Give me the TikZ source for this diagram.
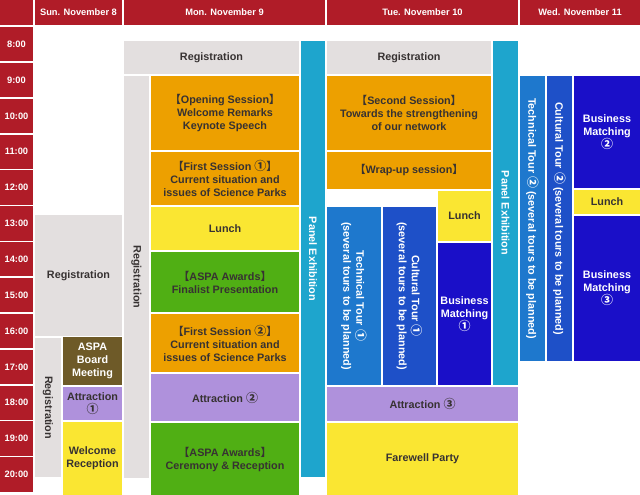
\documentclass[tikz,border=0pt]{standalone}
\usepackage{fontspec}
\setmainfont{Liberation Sans}
\newfontfamily\cjk{Noto Sans CJK JP}
\newcommand\mk[1]{{\cjk #1}}
\newcommand\cnum[1]{{\cjk\fontsize{12}{13}\selectfont #1}}

\definecolor{hdred}{HTML}{B01C28}
\definecolor{regrey}{HTML}{E3DFDF}
\definecolor{sesorange}{HTML}{EDA000}
\definecolor{lunchyellow}{HTML}{FAE632}
\definecolor{awgreen}{HTML}{50AF14}
\definecolor{attrlav}{HTML}{AF91DC}
\definecolor{boardbrown}{HTML}{6E5A28}
\definecolor{panelcyan}{HTML}{1EA5CD}
\definecolor{techblue}{HTML}{1E78CD}
\definecolor{cultblue}{HTML}{1E50C8}
\definecolor{bmblue}{HTML}{1A0FC8}
\definecolor{ink}{HTML}{373232}

\begin{document}
\begin{tikzpicture}[x=1pt,y=-1pt,
  hd/.style={font=\bfseries\fontsize{9.3}{11}\selectfont, text=white},
  lbl/.style={font=\bfseries\fontsize{10.8}{13}\selectfont, text=ink, align=center},
  vert/.style={lbl, rotate=-90}]
  \useasboundingbox[fill=white] (0,0) rectangle (640,495);

  \fill[hdred] (0,0) rectangle node[hd] (hdtime) {} (33,25);
  \fill[hdred] (35,0) rectangle node[hd] (hdsun) {Sun. November 8} (122,25);
  \fill[hdred] (124,0) rectangle node[hd] (hdmon) {Mon. November 9} (325,25);
  \fill[hdred] (327,0) rectangle node[hd] (hdtue) {Tue. November 10} (518,25);
  \fill[hdred] (520,0) rectangle node[hd] (hdwed) {Wed. November 11} (640,25);
  \foreach \h [count=\i from 0] in {8,...,20}
    \fill[hdred] (0,{27+35.85*\i}) rectangle node[hd] (t\h) {\h:00} (33,{61.3+35.85*\i});

  \fill[regrey] (35,215) rectangle node[lbl] (sunreg) {Registration} (122,336);
  \fill[regrey] (35,338) rectangle node[vert] (sunregv) {Registration} (61,477);
  \fill[boardbrown] (63,337) rectangle node[lbl, text=white] (board) {ASPA\\Board\\Meeting} (122,385);
  \fill[attrlav] (63,387) rectangle node[lbl] (attrone) {Attraction\\\cnum{①}} (122,420);
  \fill[lunchyellow] (63,422) rectangle node[lbl] (welcome) {Welcome\\Reception} (122,495);

  \fill[regrey] (124,41) rectangle node[lbl] (monreg) {Registration} (299,74);
  \fill[regrey] (124,76) rectangle node[vert] (monregv) {Registration} (149,478);
  \fill[sesorange] (151,76) rectangle node[lbl] (opening) {\mk{【}Opening Session\mk{】}\\Welcome Remarks\\Keynote Speech} (299,150);
  \fill[sesorange] (151,152) rectangle node[lbl] (firstone) {\mk{【}First Session \cnum{①}\mk{】}\\Current situation and\\issues of Science Parks} (299,205);
  \fill[lunchyellow] (151,207) rectangle node[lbl] (monlunch) {Lunch} (299,250);
  \fill[awgreen] (151,252) rectangle node[lbl] (finalist) {\mk{【}ASPA Awards\mk{】}\\Finalist Presentation} (299,312);
  \fill[sesorange] (151,314) rectangle node[lbl] (firsttwo) {\mk{【}First Session \cnum{②}\mk{】}\\Current situation and\\issues of Science Parks} (299,372);
  \fill[attrlav] (151,374) rectangle node[lbl] (attrtwo) {Attraction \cnum{②}} (299,421);
  \fill[awgreen] (151,423) rectangle node[lbl] (ceremony) {\mk{【}ASPA Awards\mk{】}\\Ceremony \& Reception} (299,495);
  \fill[panelcyan] (301,41) rectangle node[vert, text=white] (monpanel) {Panel Exhibition} (325,477);

  \fill[regrey] (327,41) rectangle node[lbl] (tuereg) {Registration} (491,74);
  \fill[sesorange] (327,76) rectangle node[lbl] (second) {\mk{【}Second Session\mk{】}\\Towards the strengthening\\of our network} (491,150);
  \fill[sesorange] (327,152) rectangle node[lbl] (wrapup) {\mk{【}Wrap-up session\mk{】}} (491,189);
  \fill[lunchyellow] (438,191) rectangle node[lbl] (tuelunch) {Lunch} (491,241);
  \fill[techblue] (327,207) rectangle node[vert, text=white] (techone) {Technical Tour \cnum{①}\\(several tours to be planned)} (381,385);
  \fill[cultblue] (383,207) rectangle node[vert, text=white] (cultone) {Cultural Tour \cnum{①}\\(several tours to be planned)} (436,385);
  \fill[bmblue] (438,243) rectangle node[lbl, text=white] (bmone) {Business\\Matching\\\cnum{①}} (491,385);
  \fill[panelcyan] (493,41) rectangle node[vert, text=white] (tuepanel) {Panel Exhibition} (518,385);
  \fill[attrlav] (327,387) rectangle node[lbl] (attrthree) {Attraction \cnum{③}} (518,421);
  \fill[lunchyellow] (327,423) rectangle node[lbl] (farewell) {Farewell Party} (518,495);

  \fill[techblue] (520,76) rectangle node[vert, text=white] (techtwo) {Technical Tour \cnum{②} (several tours to be planned)} (545,361);
  \fill[cultblue] (547,76) rectangle node[vert, text=white] (culttwo) {Cultural Tour \cnum{②} (several tours to be planned)} (572,361);
  \fill[bmblue] (574,76) rectangle node[lbl, text=white] (bmtwo) {Business\\Matching\\\cnum{②}} (640,188);
  \fill[lunchyellow] (574,190) rectangle node[lbl] (wedlunch) {Lunch} (640,214);
  \fill[bmblue] (574,216) rectangle node[lbl, text=white] (bmthree) {Business\\Matching\\\cnum{③}} (640,361);
\end{tikzpicture}
\end{document}
